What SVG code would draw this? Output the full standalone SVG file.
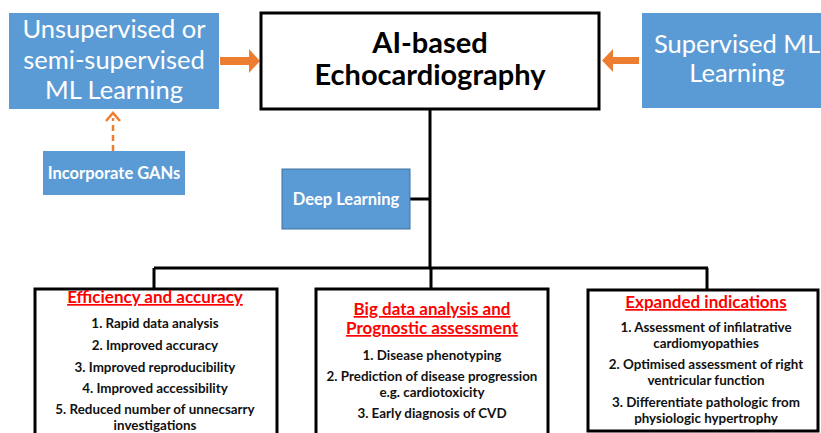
<svg xmlns="http://www.w3.org/2000/svg" width="821" height="433" viewBox="0 0 821 433">
<defs>
<style>
.blue{fill:#5B9BD5}
.wt{fill:#fff;font-family:Lato,"Liberation Sans",sans-serif;text-anchor:middle}
.big{font-size:25.5px}
.sm{font-size:16.5px;font-weight:bold}
.box{fill:#fff;stroke:#000;stroke-width:3}
.title{font-family:Lato,"Liberation Sans",sans-serif;font-weight:bold;font-size:29px;text-anchor:middle;fill:#000}
.hd{font-family:Lato,"Liberation Sans",sans-serif;font-weight:bold;font-size:17px;text-anchor:middle;fill:#FF0000;text-decoration:underline}
.it{font-family:Lato,"Liberation Sans",sans-serif;font-weight:bold;font-size:13.4px;text-anchor:middle;fill:#111}
.ln{stroke:#000;stroke-width:3;fill:none}
.or{fill:#ED7D31}
</style>
</defs>
<g id="connectors">
<path class="ln" d="M430 109V268M410 199H430M154 268H708M154 268V288M431 268V288M707 268V289"/>
<path class="or" d="M220 57H249V49L260 61L249 73V65H220Z"/>
<path class="or" d="M639 57H613V49L602 60.5L613 72V64H639Z"/>
<path d="M113 151V118" stroke="#ED7D31" stroke-width="2.5" stroke-dasharray="6,4" fill="none"/>
<path d="M106 121L113 113L120 121" stroke="#ED7D31" stroke-width="2.5" fill="none"/>
</g>
<g id="unsupervised">
<rect class="blue" x="9" y="13" width="210" height="96"/>
<text class="wt big" x="114" y="38">Unsupervised or</text>
<text class="wt big" x="114" y="69">semi-supervised</text>
<text class="wt big" x="114" y="99">ML Learning</text>
</g>
<g id="main">
<rect class="box" x="261" y="13" width="338" height="96"/>
<text class="title" x="430" y="53">AI-based</text>
<text class="title" x="430" y="85">Echocardiography</text>
</g>
<g id="supervised">
<rect class="blue" x="642" y="13" width="190" height="95"/>
<text class="wt big" x="737" y="53">Supervised ML</text>
<text class="wt big" x="737" y="82">Learning</text>
</g>
<g id="gans">
<rect class="blue" x="43" y="151" width="142" height="44"/>
<text class="wt sm" x="114" y="179">Incorporate GANs</text>
</g>
<g id="deep">
<rect class="blue" x="282" y="169" width="128" height="60" stroke="#41719C" stroke-width="1"/>
<text class="wt sm" x="346" y="205">Deep Learning</text>
</g>
<g id="efficiency">
<rect class="box" x="35" y="289" width="242" height="160"/>
<text class="hd" x="155" y="303">Efficiency and accuracy</text>
<text class="it" x="155" y="328">1. Rapid data analysis</text>
<text class="it" x="155" y="350">2. Improved accuracy</text>
<text class="it" x="155" y="372">3. Improved reproducibility</text>
<text class="it" x="155" y="393">4. Improved accessibility</text>
<text class="it" x="155" y="414">5. Reduced number of unnecsarry</text>
<text class="it" x="155" y="430">investigations</text>
</g>
<g id="bigdata">
<rect class="box" x="316" y="289" width="232" height="160"/>
<text class="hd" x="432" y="315">Big data analysis and</text>
<text class="hd" x="432" y="334">Prognostic assessment</text>
<text class="it" x="432" y="360">1. Disease phenotyping</text>
<text class="it" x="432" y="381">2. Prediction of disease progression</text>
<text class="it" x="432" y="397">e.g. cardiotoxicity</text>
<text class="it" x="432" y="418">3. Early diagnosis of CVD</text>
</g>
<g id="expanded">
<rect class="box" x="588" y="290" width="230" height="141"/>
<text class="hd" x="706" y="308">Expanded indications</text>
<text class="it" x="706" y="332">1. Assessment of infilatrative</text>
<text class="it" x="706" y="348">cardiomyopathies</text>
<text class="it" x="706" y="369">2. Optimised assessment of right</text>
<text class="it" x="706" y="385">ventricular function</text>
<text class="it" x="706" y="407">3. Differentiate pathologic from</text>
<text class="it" x="706" y="423">physiologic hypertrophy</text>
</g>
</svg>
